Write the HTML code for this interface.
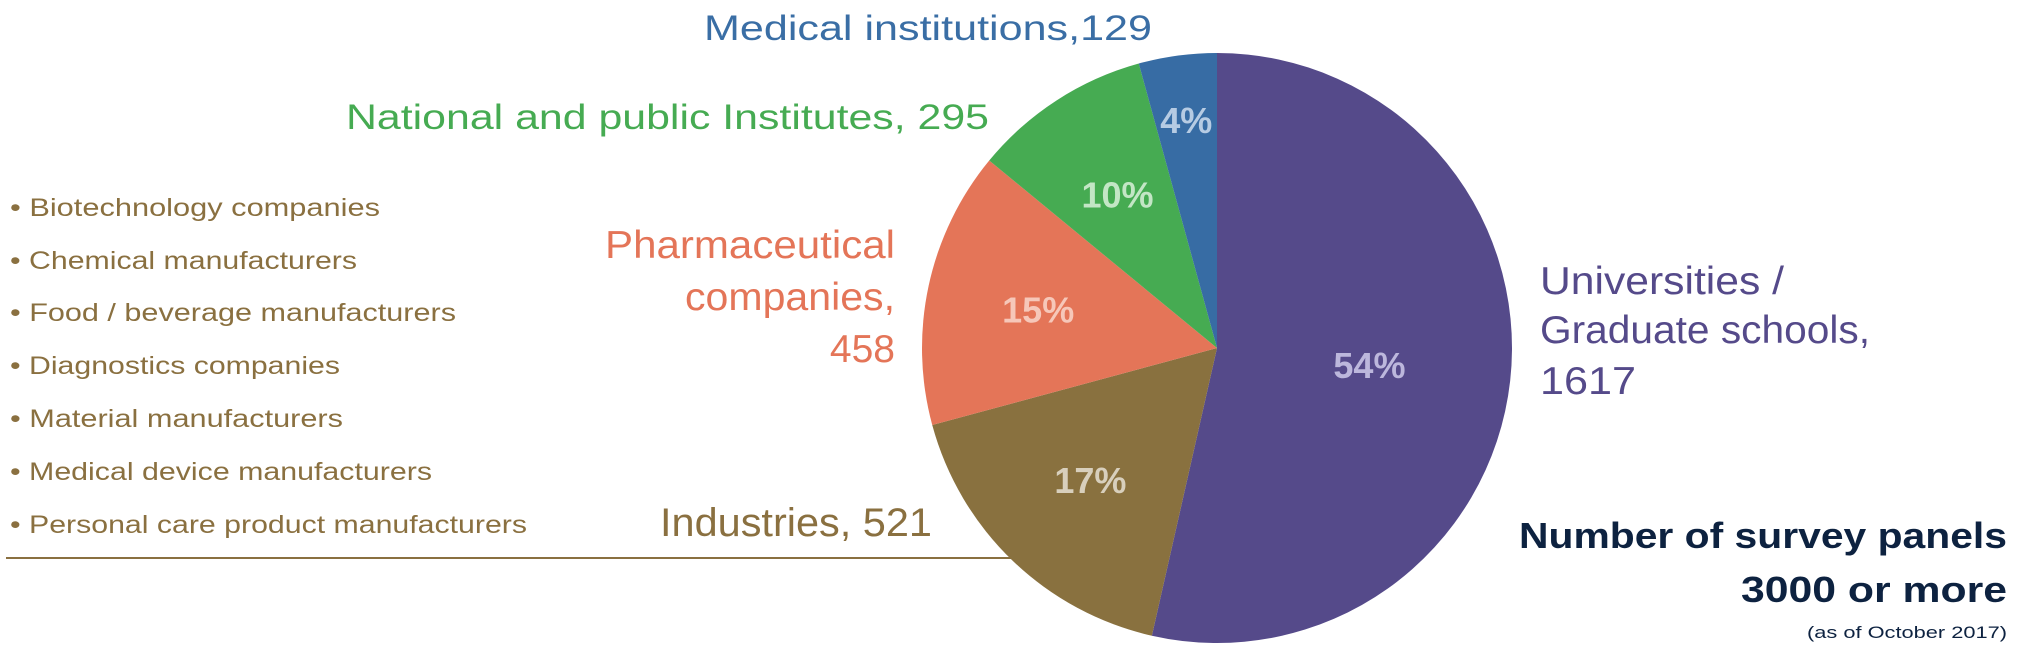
<!DOCTYPE html>
<html><head><meta charset="utf-8"><style>
html,body{margin:0;padding:0;background:#fff;}
svg{display:block;font-family:"Liberation Sans",sans-serif;}
</style></head><body>
<svg id="chart" width="2024" height="655" viewBox="0 0 2024 655">
<g id="bullets" fill="#8a7040" font-size="25">
<text x="10" y="216" textLength="370" lengthAdjust="spacingAndGlyphs">• Biotechnology companies</text>
<text x="10" y="269" textLength="347" lengthAdjust="spacingAndGlyphs">• Chemical manufacturers</text>
<text x="10" y="321" textLength="446" lengthAdjust="spacingAndGlyphs">• Food / beverage manufacturers</text>
<text x="10" y="374" textLength="330" lengthAdjust="spacingAndGlyphs">• Diagnostics companies</text>
<text x="10" y="427" textLength="333" lengthAdjust="spacingAndGlyphs">• Material manufacturers</text>
<text x="10" y="480" textLength="422" lengthAdjust="spacingAndGlyphs">• Medical device manufacturers</text>
<text x="10" y="533" textLength="517" lengthAdjust="spacingAndGlyphs">• Personal care product manufacturers</text>
</g>
<line x1="6" y1="558" x2="1015" y2="558" stroke="#8a7040" stroke-width="2"/>
<g id="slices"></g>
<g id="pcts" font-weight="bold" font-size="36" text-anchor="middle"></g>
<g font-size="35">
<text x="1152" y="40" text-anchor="end" fill="#3a6ea5" textLength="448" lengthAdjust="spacingAndGlyphs">Medical institutions,129</text>
<text x="989" y="129" text-anchor="end" fill="#46ab52" textLength="643" lengthAdjust="spacingAndGlyphs">National and public Institutes, 295</text>
</g>
<g fill="#e47558" font-size="39" text-anchor="end">
<text x="895" y="258" textLength="290" lengthAdjust="spacingAndGlyphs">Pharmaceutical</text>
<text x="895" y="310" textLength="210" lengthAdjust="spacingAndGlyphs">companies,</text>
<text x="895" y="362">458</text>
</g>
<text x="932" y="536" text-anchor="end" fill="#8a7040" font-size="40" textLength="272" lengthAdjust="spacingAndGlyphs">Industries, 521</text>
<g fill="#554a8a" font-size="39">
<text x="1540" y="294" textLength="244" lengthAdjust="spacingAndGlyphs">Universities /</text>
<text x="1540" y="343" textLength="330" lengthAdjust="spacingAndGlyphs">Graduate schools,</text>
<text x="1540" y="394" textLength="96" lengthAdjust="spacingAndGlyphs">1617</text>
</g>
<g fill="#0d2240" text-anchor="end">
<text x="2007" y="548" font-size="36" font-weight="bold" textLength="488" lengthAdjust="spacingAndGlyphs">Number of survey panels</text>
<text x="2007" y="602" font-size="36" font-weight="bold" textLength="266" lengthAdjust="spacingAndGlyphs">3000 or more</text>
<text x="2007" y="638" font-size="17" textLength="200" lengthAdjust="spacingAndGlyphs">(as of October 2017)</text>
</g>
</svg>
<script>
const categories = ["Universities / Graduate schools","Industries","Pharmaceutical companies","National and public Institutes","Medical institutions"];
const values = [1617, 521, 458, 295, 129];
const pctLabels = ["54%","17%","15%","10%","4%"];
const colors = ["#554a8a","#89713f","#e47558","#46ab52","#376ca4"];
const pctColors = ["#bcb7dc","#d8cfbc","#f6c7b9","#c3e6c5","#b6cbe3"];
const cx = 1217, cy = 348, r = 295;
const total = values.reduce((a,b)=>a+b,0);
const ns = "http://www.w3.org/2000/svg";
const sg = document.getElementById('slices'), pg = document.getElementById('pcts');
function pt(a, rr){ return [cx + rr*Math.sin(a), cy - rr*Math.cos(a)]; }
let acc = 0;
values.forEach((v,i)=>{
  const a0 = acc/total*2*Math.PI; acc += v; const a1 = acc/total*2*Math.PI;
  const p0 = pt(a0,r), p1 = pt(a1,r);
  const large = (a1-a0) > Math.PI ? 1 : 0;
  const path = document.createElementNS(ns,'path');
  path.setAttribute('d',`M${cx},${cy} L${p0[0]},${p0[1]} A${r},${r} 0 ${large} 1 ${p1[0]},${p1[1]} Z`);
  path.setAttribute('fill',colors[i]);
  
  
  sg.appendChild(path);
  const am = (a0+a1)/2;
  const lr = i===0 ? 0.52*r : (i===4 ? 0.78*r : 0.62*r);
  const lp = pt(am, lr);
  const t = document.createElementNS(ns,'text');
  t.setAttribute('x', lp[0]); t.setAttribute('y', lp[1]+13);
  t.setAttribute('fill', pctColors[i]);
  t.textContent = pctLabels[i];
  
  
  pg.appendChild(t);
});
</script>
</body></html>
